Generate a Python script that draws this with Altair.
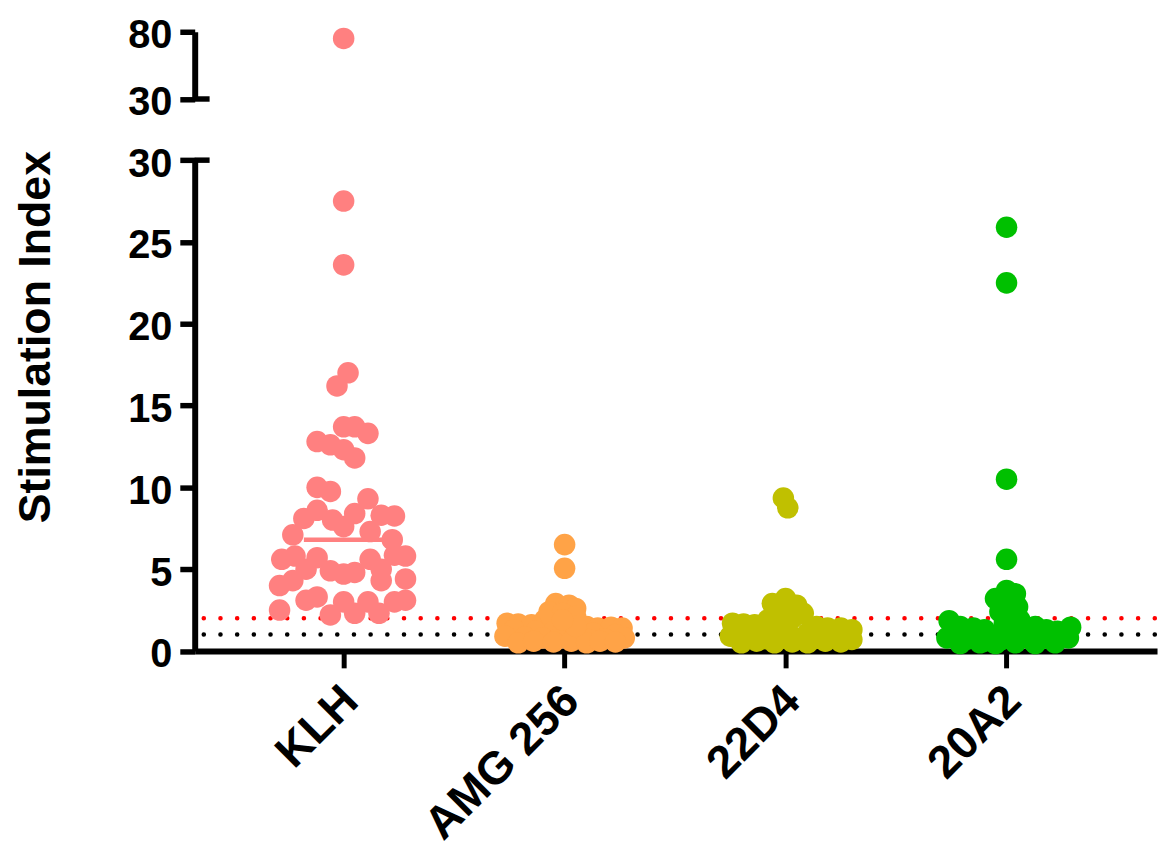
import json
import altair as alt
import pandas as pd

categories = ["KLH", "AMG 256", "22D4", "20A2"]
colors = ["#FF8080", "#FFA347", "#C0C000", "#00C000"]

klh_values = [75.0, 27.5, 23.6, 17.0, 16.2, 13.7, 13.7, 13.3, 12.8, 12.6, 12.3, 11.8,
              10.0, 9.75, 9.3, 8.6, 8.1, 8.0, 8.4, 8.3, 8.25, 7.6, 7.3, 7.1, 6.8,
              5.8, 5.6, 5.7, 5.0, 4.9, 4.7, 4.8, 5.6, 5.0, 5.85, 5.8,
              4.0, 4.3, 4.3, 4.4, 2.5, 3.1, 3.3, 2.2, 3.0, 2.3, 3.0, 2.3, 3.0, 3.1]
klh_offsets = [0.0, 0.0, 0.0, 0.02, -0.03, 0.0, 0.05, 0.11, -0.12, -0.06, 0.0, 0.05,
               -0.12, -0.06, 0.11, -0.12, -0.18, -0.05, 0.05, 0.17, 0.23, 0.0, 0.12, -0.23, 0.22,
               -0.22, -0.28, -0.12, -0.17, -0.06, 0.0, 0.05, 0.12, 0.17, 0.23, 0.28,
               -0.29, -0.23, 0.17, 0.28, -0.29, -0.17, -0.12, -0.06, 0.0, 0.05, 0.11, 0.16, 0.23, 0.28]

amg_values = [6.5, 5.05, 2.9, 2.8, 2.6, 2.4, 2.3, 2.1, 1.9,
              1.7, 1.65, 1.6, 1.5, 1.4, 1.45, 1.4,
              1.3, 1.2, 1.2, 1.1, 1.0, 1.1, 1.0,
              0.9, 0.85, 0.8, 0.75, 0.8, 0.7, 0.75, 0.8,
              0.5, 0.6, 0.55, 0.6, 0.5, 0.6, 0.55, 1.5, 1.9]
amg_offsets = [0.0, 0.0, -0.04, 0.02, 0.05, -0.07, -0.01, 0.05, -0.09,
               -0.26, -0.21, -0.15, 0.10, 0.15, 0.21, 0.26,
               -0.23, -0.13, -0.05, 0.01, 0.07, 0.13, 0.23,
               -0.27, -0.18, -0.10, -0.03, 0.05, 0.11, 0.18, 0.27,
               -0.21, -0.14, -0.05, 0.03, 0.10, 0.16, 0.23, 0.05, -0.01]

d22_values = [9.35, 8.75, 3.2, 2.9, 2.8, 2.5, 2.3, 2.0, 1.9,
              1.7, 1.65, 1.6, 1.5, 1.4, 1.4, 1.3,
              1.3, 1.2, 1.1, 1.0, 1.1, 1.0, 0.9,
              0.9, 0.8, 0.75, 0.8, 0.7, 0.75, 0.8, 0.7,
              0.5, 0.6, 0.5, 0.55, 0.5, 0.6, 0.55, 1.5]
d22_offsets = [-0.01, 0.01, 0.0, -0.06, 0.05, -0.03, 0.08, 0.03, -0.08,
               -0.24, -0.19, -0.14, 0.14, 0.19, 0.25, 0.30,
               -0.22, -0.12, -0.05, 0.02, 0.10, 0.16, 0.27,
               -0.25, -0.17, -0.09, -0.02, 0.05, 0.13, 0.22, 0.30,
               -0.20, -0.13, -0.05, 0.03, 0.10, 0.18, 0.25, 0.0]

a20_values = [25.9, 22.5, 10.5, 5.6, 3.7, 3.5, 3.2, 3.0, 2.7, 2.4, 2.2, 1.9,
              1.85, 1.5, 1.4, 1.3, 1.5, 1.3, 1.2, 1.45,
              1.1, 1.0, 0.9, 1.0, 1.1, 0.9, 1.0,
              0.8, 0.7, 0.6, 0.65, 0.7, 0.6, 0.7, 0.8,
              0.45, 0.5, 0.45, 0.5, 0.45, 0.5, 1.7]
a20_offsets = [0.0, 0.0, 0.0, 0.0, 0.0, 0.04, -0.05, 0.01, 0.05, -0.03, 0.03, 0.06,
               -0.26, -0.21, -0.15, -0.10, 0.13, 0.18, 0.23, 0.29,
               -0.23, -0.13, -0.06, 0.0, 0.08, 0.15, 0.26,
               -0.27, -0.18, -0.10, -0.03, 0.05, 0.12, 0.20, 0.28,
               -0.21, -0.12, -0.05, 0.04, 0.13, 0.22, -0.01]

klh_mean = 6.8
red_threshold = 2
black_threshold = 1
break_value = 30

groups = [(klh_values, klh_offsets), (amg_values, amg_offsets),
          (d22_values, d22_offsets), (a20_values, a20_offsets)]
rows = []
for i, (vals, offs) in enumerate(groups):
    for v, o in zip(vals, offs):
        rows.append({"group": categories[i], "idx": i, "pos": i + o, "value": v})
df = pd.DataFrame(rows)
mean_df = pd.DataFrame({"group": ["KLH"], "idx": [0], "mean": [klh_mean]})

FONT = "Liberation Sans"
W = 969
H = 623.5

x_scale = alt.Scale(domain=[-0.674, 3.681], nice=False, zero=False)
y_low = alt.Scale(domain=[0, 30], range=[H, 129.3], nice=False, zero=False)
y_high = alt.Scale(domain=[30, 80], range=[67.7, 0], nice=False, zero=False)
color_scale = alt.Scale(domain=categories, range=colors)

common = dict(domainColor="black", domainWidth=6, tickColor="black", tickWidth=5.5,
              labelColor="black", labelFont=FONT, labelFontWeight="bold",
              labelFontSize=40, grid=False)

y_low_axis = alt.Axis(orient="left", values=[0, 5, 10, 15, 20, 25, 30], tickSize=15,
                      labelPadding=8, labelOffset=4,
                      title="Stimulation Index", titleFont=FONT, titleFontSize=45,
                      titleFontWeight="bold", titleColor="black", titleAngle=270,
                      titleAlign="center", titleBaseline="middle",
                      titleX=-160, titleY=307, **common)
y_high_axis = alt.Axis(orient="left", values=[30, 80], tickSize=15, labelPadding=8,
                       labelOffset=4, title=None, **common)
x_axis = alt.Axis(values=[0, 1, 2, 3],
                  labelExpr=json.dumps(categories) + "[datum.value]",
                  labelAngle=315, labelAlign="right", labelBaseline="top",
                  labelPadding=10, labelOffset=-9, labelLimit=500,
                  tickSize=17, labelOverlap=False, labelFlush=False,
                  title=None, domainColor="black", domainWidth=6, tickColor="black",
                  tickWidth=5, labelColor="black", labelFont=FONT,
                  labelFontWeight="bold", labelFontSize=46, grid=False)

dot_style = dict(strokeWidth=4.5, strokeDash=[0.1, 16.7], strokeCap="round",
                 strokeDashOffset=14.6)

red_rule = alt.Chart(pd.DataFrame({"v": [red_threshold]})).mark_rule(
    color="#FF0000", **dot_style
).encode(y=alt.Y("v:Q", scale=y_low, axis=y_low_axis))

black_rule = alt.Chart(pd.DataFrame({"v": [black_threshold]})).mark_rule(
    color="#000000", **dot_style
).encode(y=alt.Y("v:Q", scale=y_low, axis=y_low_axis))

points_low = alt.Chart(df).transform_filter(
    f"datum.value <= {break_value}"
).mark_circle(size=470, opacity=1).encode(
    x=alt.X("pos:Q", scale=x_scale, axis=x_axis),
    y=alt.Y("value:Q", scale=y_low, axis=y_low_axis),
    color=alt.Color("group:N", scale=color_scale, legend=None),
)

mean_rule = alt.Chart(mean_df).transform_calculate(
    x1="datum.idx - 0.18", x2="datum.idx + 0.18"
).mark_rule(strokeWidth=4.5).encode(
    x=alt.X("x1:Q", scale=x_scale, axis=x_axis),
    x2="x2:Q",
    y=alt.Y("mean:Q", scale=y_low, axis=y_low_axis),
    color=alt.Color("group:N", scale=color_scale, legend=None),
)

stub_low = alt.Chart(pd.DataFrame({"v": [break_value]})).mark_rule(
    color="black", strokeWidth=5.5
).encode(x=alt.value(0), x2=alt.value(15), y=alt.Y("v:Q", scale=y_low, axis=y_low_axis))

points_high = alt.Chart(df).transform_filter(
    f"datum.value > {break_value}"
).mark_circle(size=470, opacity=1).encode(
    x=alt.X("pos:Q", scale=x_scale, axis=x_axis),
    y=alt.Y("value:Q", scale=y_high, axis=y_high_axis),
    color=alt.Color("group:N", scale=color_scale, legend=None),
)

stub_high = alt.Chart(pd.DataFrame({"v": [break_value]})).mark_rule(
    color="black", strokeWidth=5.5
).encode(x=alt.value(0), x2=alt.value(15), y=alt.Y("v:Q", scale=y_high, axis=y_high_axis))

low = alt.layer(red_rule, black_rule, points_low, mean_rule, stub_low)
high = alt.layer(points_high, stub_high)

chart = alt.layer(low, high).resolve_scale(y="independent").properties(
    width=W, height=H,
    padding={"left": 188, "top": 21, "right": 4, "bottom": 197},
    autosize=alt.AutoSizeParams(type="none"),
).configure_view(strokeWidth=0)

chart.save("out.html", embed_options={"renderer": "svg", "actions": False})
